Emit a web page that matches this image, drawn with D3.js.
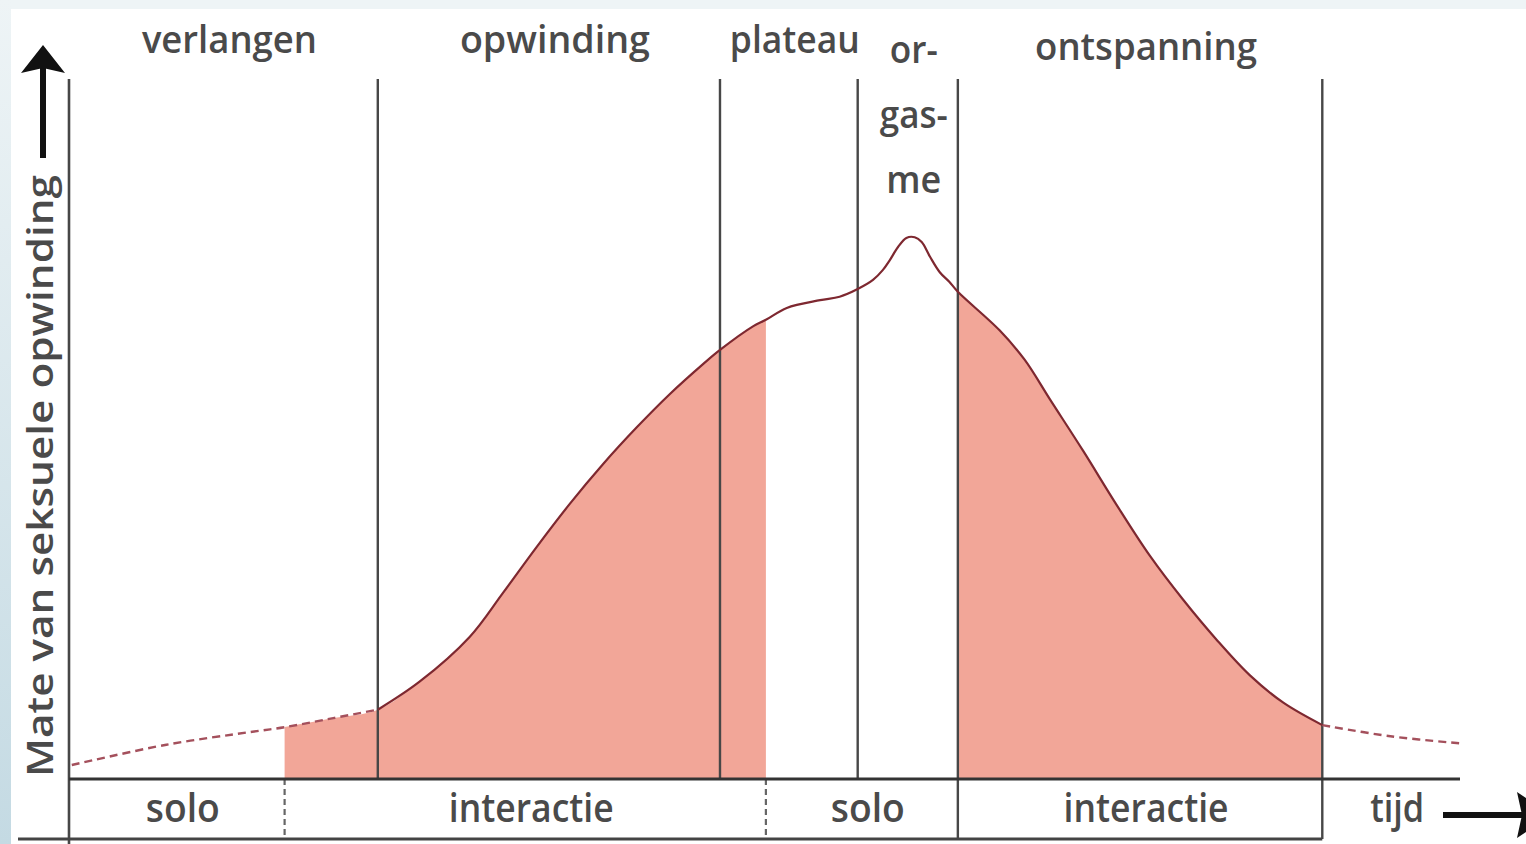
<!DOCTYPE html>
<html><head><meta charset="utf-8">
<script src="https://cdn.jsdelivr.net/npm/d3@7"></script>
<style>
body{margin:0;background:#fff;overflow:hidden}
svg{display:block}
text{font-family:"Open Sans",sans-serif;fill:#4a4a4a;font-weight:600}
</style>
</head><body><svg id="c" width="1526" height="844"></svg>
<script>
// ---- data (time units 0-100, arousal units 0-100) ----
const time = [0.2, 7.0, 13.0, 15.5, 19.0, 22.2, 25.2, 28.8, 31.2, 33.6, 36.0, 38.4, 40.8, 43.2, 45.6, 46.8,
  49.2, 50.1, 51.6, 54.0, 55.4, 56.7, 57.8, 58.5, 59.0, 59.6, 60.2, 60.8, 61.3, 61.9, 62.6, 63.3, 63.9,
  66.9, 68.7, 70.5, 72.9, 75.3, 77.7, 80.1, 82.5, 84.9, 87.3, 90.1, 95.0, 100];
const arousal = [2.0, 4.9, 6.7, 7.4, 8.7, 9.9, 13.9, 20.3, 26.6, 33.1, 39.3, 45.0, 50.2, 55.0, 59.3, 61.3,
  64.7, 65.6, 67.3, 68.4, 68.9, 70.0, 71.3, 72.7, 74.1, 76.0, 77.3, 77.4, 76.7, 74.6, 72.4, 71.0, 69.6,
  64.1, 59.9, 54.3, 46.9, 39.2, 31.9, 25.6, 19.9, 14.8, 10.9, 7.7, 6.1, 5.1];
const phaseNames = [["verlangen"], ["opwinding"], ["plateau"], ["or-", "gas-", "me"], ["ontspanning"]];
const phaseBounds = [0, 22.2, 46.8, 56.7, 63.9, 90.1];
const modeNames = ["solo", "interactie", "solo", "interactie", "tijd"];
const modeBounds = [0, 15.5, 50.1, 63.9, 90.1, 100];
const interactionSpans = [[15.5, 50.1], [63.9, 90.1]];
const solidSpan = [22.2, 90.1];
const yAxisTitle = "Mate van seksuele opwinding";

// ---- layout ----
const W = 1526, H = 844;
const svg = d3.select("#c");
const x = d3.scaleLinear().domain([0, 100]).range([69, 1460]);
const y = d3.scaleLinear().domain([0, 100]).range([779, 79]);
const rowBottom = 839;
const labelWidths = {verlangen:175, opwinding:190, plateau:130, "or-":48, "gas-":68, me:55,
  ontspanning:222, solo:74, interactie:165, tijd:54};

// background frame
const defs = svg.append("defs");
const lg = defs.append("linearGradient").attr("id","lb").attr("x1",0).attr("y1",0).attr("x2",0).attr("y2",1);
lg.append("stop").attr("offset","0%").attr("stop-color","#eef4f6");
lg.append("stop").attr("offset","100%").attr("stop-color","#c4dae3");
svg.append("rect").attr("width",W).attr("height",H).attr("fill","#fff");
svg.append("rect").attr("width",W).attr("height",9).attr("fill","#eef4f6");
svg.append("rect").attr("width",11).attr("height",H).attr("fill","url(#lb)");

const pts = time.map((t,i)=>({t, v:arousal[i]}));
const curve = d3.curveCatmullRom.alpha(0.5);

// filled interaction areas
const area = d3.area().x(d=>x(d.t)).y0(y(0)).y1(d=>y(d.v)).curve(curve);
interactionSpans.forEach(([a,b])=>{
  svg.append("path").datum(pts.filter(p=>p.t>=a && p.t<=b))
    .attr("d", area).attr("fill","#f2a698");
});

// vertical phase lines
const lineCol = "#474747";
svg.append("line").attr("x1",x(0)).attr("x2",x(0)).attr("y1",y(100)).attr("y2",H)
  .attr("stroke",lineCol).attr("stroke-width",2.6);
phaseBounds.slice(1).forEach(b=>{
  const full = (b===phaseBounds[4] || b===phaseBounds[5]);
  svg.append("line").attr("x1",x(b)).attr("x2",x(b)).attr("y1",y(100))
    .attr("y2", full ? rowBottom : y(0))
    .attr("stroke",lineCol).attr("stroke-width",2.4);
});
// dashed mode dividers in the bottom row
[modeBounds[1], modeBounds[2]].forEach(b=>{
  svg.append("line").attr("x1",x(b)).attr("x2",x(b)).attr("y1",y(0)).attr("y2",rowBottom)
    .attr("stroke","#666").attr("stroke-width",2.2).attr("stroke-dasharray","6,4");
});
// baseline (time axis) and bottom line
svg.append("line").attr("x1",x(0)).attr("x2",x(100)).attr("y1",y(0)).attr("y2",y(0))
  .attr("stroke","#333").attr("stroke-width",3);
svg.append("line").attr("x1",18).attr("x2",x(phaseBounds[5])).attr("y1",rowBottom).attr("y2",rowBottom)
  .attr("stroke","#444").attr("stroke-width",3);

// curve
const line = d3.line().x(d=>x(d.t)).y(d=>y(d.v)).curve(curve);
svg.append("path").datum(pts.filter(p=>p.t<=solidSpan[0]))
  .attr("d",line).attr("fill","none").attr("stroke","#a4505c").attr("stroke-width",2.4)
  .attr("stroke-dasharray","8,5");
svg.append("path").datum(pts.filter(p=>p.t>=solidSpan[1]))
  .attr("d",line).attr("fill","none").attr("stroke","#a4505c").attr("stroke-width",2.4)
  .attr("stroke-dasharray","8,5");
svg.append("path").datum(pts.filter(p=>p.t>=solidSpan[0] && p.t<=solidSpan[1]))
  .attr("d",line).attr("fill","none").attr("stroke","#7e2830").attr("stroke-width",2.2);

// phase labels (top)
phaseNames.forEach((lines,i)=>{
  const cx = (x(phaseBounds[i]) + x(phaseBounds[i+1]))/2 + 6;
  lines.forEach((s,j)=>{
    let by = lines.length>1 ? 63 + j*65 : (s==="ontspanning" ? 60 : 53);
    svg.append("text").attr("x",cx).attr("y",by).attr("text-anchor","middle")
      .attr("font-size",37).attr("textLength",labelWidths[s]).attr("lengthAdjust","spacingAndGlyphs")
      .text(s);
  });
});
// mode labels (bottom row)
modeNames.forEach((s,i)=>{
  const cx = (x(modeBounds[i]) + x(modeBounds[i+1]))/2 + 6;
  svg.append("text").attr("x",cx).attr("y",822).attr("text-anchor","middle")
    .attr("font-size",40).attr("textLength",labelWidths[s]).attr("lengthAdjust","spacingAndGlyphs")
    .text(s);
});

// y axis title (rotated)
svg.append("text").attr("transform","translate(53,476) rotate(-90)").attr("text-anchor","middle")
  .attr("font-size",36).attr("textLength",602).attr("lengthAdjust","spacingAndGlyphs")
  .text(yAxisTitle);

// arrows
svg.append("line").attr("x1",43).attr("x2",43).attr("y1",158).attr("y2",66)
  .attr("stroke","#111").attr("stroke-width",6);
svg.append("path").attr("d","M43,45 L65,73 L43,68 L21,73 Z").attr("fill","#111");
svg.append("line").attr("x1",1443).attr("x2",1522).attr("y1",815).attr("y2",815)
  .attr("stroke","#111").attr("stroke-width",6);
svg.append("path").attr("d","M1552,815 L1517,838 L1522,815 L1517,792 Z").attr("fill","#111");
</script>
</body></html>
